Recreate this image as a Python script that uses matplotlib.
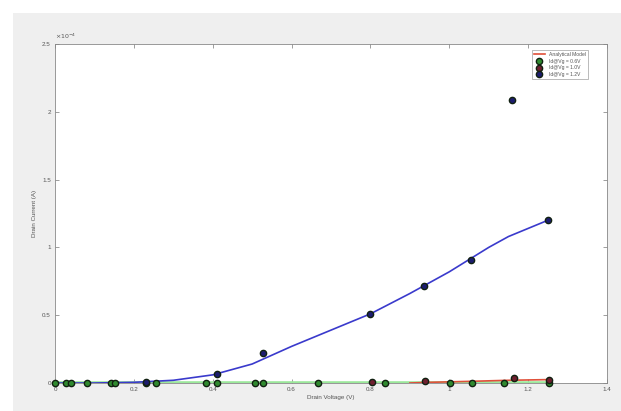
import matplotlib
matplotlib.use("Agg")
import matplotlib.pyplot as plt
from matplotlib.patches import Rectangle
from matplotlib.lines import Line2D
from matplotlib.ticker import FuncFormatter

plt.rcParams['font.family'] = ['Liberation Sans', 'DejaVu Sans']

# Measured drain current (A) against drain voltage (V)
green_v = [0.0, 0.028, 0.041, 0.080, 0.142, 0.152, 0.230, 0.256, 0.383, 0.412,
           0.506, 0.527, 0.666, 0.836, 1.003, 1.058, 1.140, 1.254]
green_i = [0.0] * len(green_v)

red_v = [0.804, 0.939, 1.163, 1.254]
red_i = [0.006e-4, 0.012e-4, 0.035e-4, 0.02e-4]

blue_v = [0.230, 0.412, 0.527, 0.800, 0.936, 1.055, 1.160, 1.250]
blue_i = [0.005e-4, 0.066e-4, 0.22e-4, 0.51e-4, 0.715e-4, 0.91e-4, 2.087e-4, 1.204e-4]

# Analytical model curves
model_v = [0.0, 0.1, 0.2, 0.3, 0.4, 0.5, 0.6, 0.7, 0.8, 0.9, 1.0, 1.1, 1.15, 1.25]
model_hi = [0.0, 0.0, 0.005e-4, 0.02e-4, 0.06e-4, 0.14e-4, 0.27e-4, 0.39e-4,
            0.51e-4, 0.66e-4, 0.82e-4, 1.0e-4, 1.08e-4, 1.20e-4]
model_mid_v = [0.90, 0.95, 1.05, 1.15, 1.25]
model_mid = [0.0, 0.005e-4, 0.012e-4, 0.02e-4, 0.025e-4]
model_lo_v = [0.0, 1.25]
model_lo = [0.0, 0.0]

legend_labels = ['Analytical Model', 'Id@Vg = 0.6V', 'Id@Vg = 1.0V', 'Id@Vg = 1.2V']

xticks = [0, 0.2, 0.4, 0.6, 0.8, 1.0, 1.2, 1.4]
xticklabels = ['0', '0.2', '0.4', '0.6', '0.8', '1', '1.2', '1.4']
yticks = [0, 0.5e-4, 1.0e-4, 1.5e-4, 2.0e-4, 2.5e-4]
y_scale = 1e-4

W, H = 621, 411
fig = plt.figure(figsize=(W / 100, H / 100), dpi=100, facecolor='white')
fig.patches.append(Rectangle((13 / W, 0), 1, 1 - 13 / H, transform=fig.transFigure,
                             facecolor='#efefef', edgecolor='none', zorder=-10))

ax = fig.add_axes([55 / W, 28 / H, 552 / W, 339 / H])
ax.set_facecolor('white')

green_c, red_c, blue_c = '#2f8a2f', '#6e1f2f', '#1c1c6e'

ax.plot(model_lo_v, model_lo, color='#9be89b', lw=2.6, zorder=2)
ax.plot(model_mid_v, model_mid, color='#e0503a', lw=1.2, zorder=3)
ax.plot(model_v, model_hi, color='#3a3acc', lw=1.2, zorder=3)

mk = dict(marker='o', ls='none', ms=4.5, mew=1.0, mec='#102010', zorder=5, clip_on=False)
ax.plot(green_v, green_i, mfc=green_c, **mk)
ax.plot(red_v, red_i, mfc=red_c, **mk)
ax.plot(blue_v, blue_i, mfc=blue_c, **mk)

ax.set_xlim(0, 1.4)
ax.set_ylim(0, 2.5e-4)
ax.set_xticks(xticks)
ax.set_xticklabels(xticklabels)
ax.set_yticks(yticks)
ax.yaxis.set_major_formatter(FuncFormatter(lambda y, _: f'{y / y_scale:g}'))
ax.text(0.0, 1.008, r'$\times10^{-4}$', transform=ax.transAxes, fontsize=4.5,
        color='#555555', ha='left', va='bottom')

ax.tick_params(direction='in', length=3, width=0.5, labelsize=4.5,
               labelcolor='#555555', color='#777777', top=True, right=True, pad=3)
for s in ax.spines.values():
    s.set_color('#888888')
    s.set_linewidth(0.6)

ax.set_xlabel('Drain Voltage (V)', fontsize=4.5, color='#555555', labelpad=2)
ax.set_ylabel('Drain Current (A)', fontsize=4.5, color='#555555', labelpad=4)

handles = [
    Line2D([], [], color='#e0503a', lw=1.2),
    Line2D([], [], marker='o', ls='none', ms=4.5, mfc=green_c, mec='#102010'),
    Line2D([], [], marker='o', ls='none', ms=4.5, mfc=red_c, mec='#102010'),
    Line2D([], [], marker='o', ls='none', ms=4.5, mfc=blue_c, mec='#102010'),
]
leg = ax.legend(handles, legend_labels, loc='upper right', fontsize=3.6,
                frameon=True, fancybox=False, borderpad=0.4, handlelength=2.2,
                labelspacing=0.35, bbox_to_anchor=(0.97, 0.99))
leg.get_frame().set_edgecolor('#888888')
leg.get_frame().set_linewidth(0.5)
for t in leg.get_texts():
    t.set_color('#555555')

fig.savefig('out.png', dpi=100, facecolor=fig.get_facecolor())
